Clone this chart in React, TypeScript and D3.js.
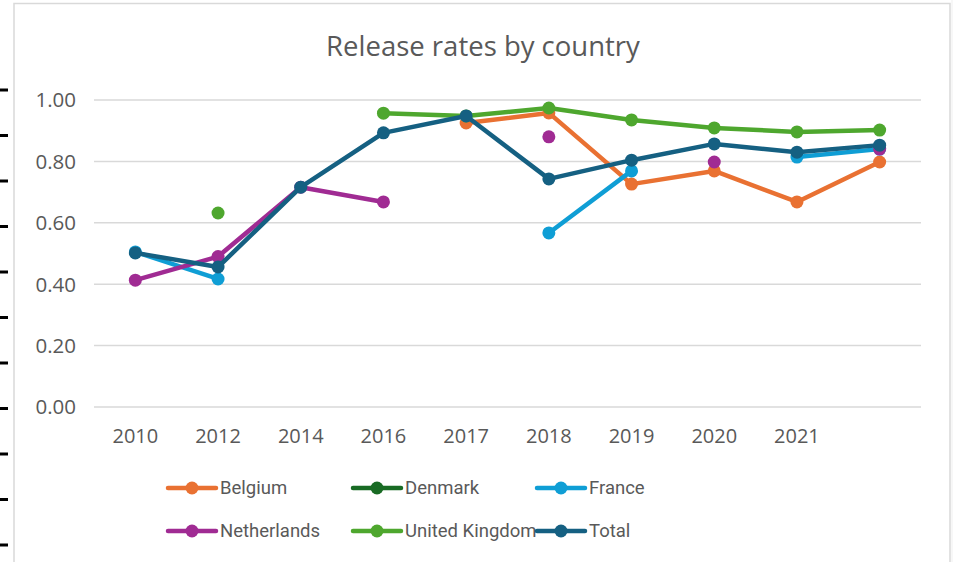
import React, { useEffect } from 'react'
import * as d3 from 'd3'

// categories on the x axis (the last one has no label)
const categories = ['2010', '2012', '2014', '2016', '2017', '2018', '2019', '2020', '2021', '']
const yTicks = [0, 0.2, 0.4, 0.6, 0.8, 1.0]

const belgium     = [null, null, null, null, 0.925, 0.958, 0.726, 0.769, 0.668, 0.798]
const denmark     = [null, null, null, null, null, null, null, null, null, null]
const france      = [0.505, 0.417, null, null, null, 0.567, 0.769, null, 0.814, 0.840]
const netherlands = [0.413, 0.490, 0.716, 0.668, null, 0.880, null, 0.798, null, 0.840]
const uk          = [null, 0.632, null, 0.957, 0.948, 0.974, 0.935, 0.909, 0.896, 0.902]
const total       = [0.502, 0.456, 0.716, 0.893, 0.948, 0.743, 0.804, 0.857, 0.830, 0.853]

interface Series { name: string; color: string; values: (number | null)[] }

const series: Series[] = [
  { name: 'Belgium',        color: '#E97132', values: belgium },
  { name: 'Denmark',        color: '#196B24', values: denmark },
  { name: 'France',         color: '#0F9ED5', values: france },
  { name: 'Netherlands',    color: '#A02B93', values: netherlands },
  { name: 'United Kingdom', color: '#4EA72E', values: uk },
  { name: 'Total',          color: '#156082', values: total },
]

const W = 953, H = 562
const TEXT = '#595959'
const GRID = '#D9D9D9'

export default function App() {
  useEffect(() => { document.body.style.margin = '0' }, [])

  const x = d3.scaleBand<number>().domain(categories.map((_, i) => i)).range([94, 921]).padding(0)
  const y = d3.scaleLinear().domain([0, 1]).range([407, 100])
  const cx = (i: number) => (x(i) ?? 0) + x.bandwidth() / 2

  const line = d3.line<number | null>()
    .defined(d => d != null)
    .x((_, i) => cx(i))
    .y(d => y(d as number))

  // the stray tick marks left of the frame
  const marks = d3.range(11)
  const markY = d3.scaleLinear().domain([0, 10]).range([90, 545])

  // legend grid
  const legX = [168, 353, 537]
  const legY = [488, 531]

  return (
    <svg width={W} height={H} style={{ display: 'block', background: '#fff' }}>
      {marks.map(m => (
        <line key={m} x1={0} x2={8} y1={markY(m)} y2={markY(m)} stroke="#000" strokeWidth={3} />
      ))}
      <path d={`M14,${H} L14,3.5 L950,3.5 L950,${H}`} fill="none" stroke={GRID} strokeWidth={1.5} />
      <rect x={951} y={0} width={2} height={H} fill="#f7f7f7" />

      <text x={483} y={56} textAnchor="middle" fill={TEXT} fontFamily="'Open Sans', sans-serif" fontSize={27.5}>
        Release rates by country
      </text>

      {yTicks.map(t => (
        <g key={t}>
          <line x1={94} x2={921} y1={y(t)} y2={y(t)} stroke={GRID} strokeWidth={1.5} />
          <text x={76} y={y(t)} dy="0.36em" textAnchor="end" fill={TEXT}
            fontFamily="'Open Sans', sans-serif" fontSize={20.5}>{d3.format('.2f')(t)}</text>
        </g>
      ))}

      {categories.map((c, i) => (
        <text key={i} x={cx(i)} y={443} textAnchor="middle" fill={TEXT}
          fontFamily="'Open Sans', sans-serif" fontSize={20}>{c}</text>
      ))}

      {series.map(s => (
        <g key={s.name}>
          <path d={line(s.values) ?? ''} fill="none" stroke={s.color} strokeWidth={4.5}
            strokeLinejoin="round" strokeLinecap="round" />
          {s.values.map((v, i) => v == null ? null : (
            <circle key={i} cx={cx(i)} cy={y(v)} r={6.5} fill={s.color} />
          ))}
        </g>
      ))}

      {series.map((s, i) => {
        const lx = legX[i % 3], ly = legY[Math.floor(i / 3)]
        return (
          <g key={s.name}>
            <line x1={lx} x2={lx + 48} y1={ly} y2={ly} stroke={s.color} strokeWidth={4.5} strokeLinecap="round" />
            <circle cx={lx + 24} cy={ly} r={6.5} fill={s.color} />
            <text x={lx + 52} y={ly} dy="0.35em" fill={TEXT} fontFamily="Roboto, sans-serif" fontSize={18.5}>
              {s.name}
            </text>
          </g>
        )
      })}
    </svg>
  )
}
